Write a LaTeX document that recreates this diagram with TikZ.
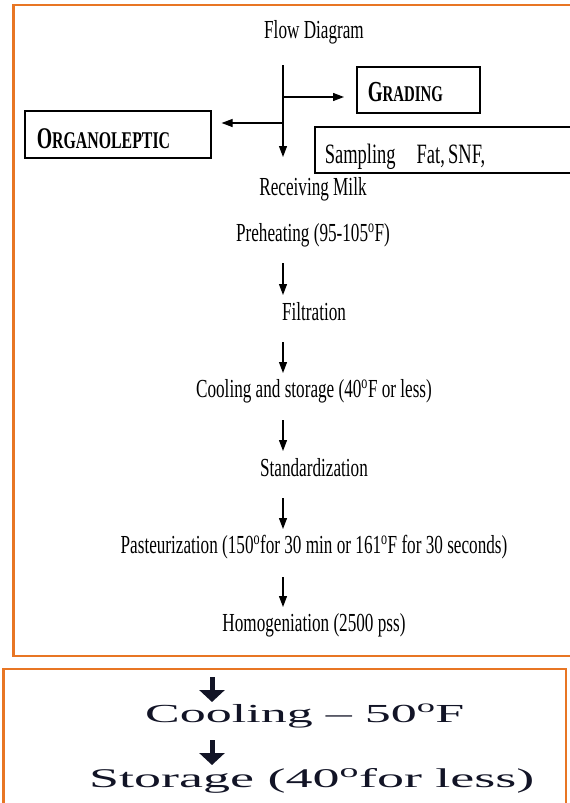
\documentclass[tikz,border=0pt]{standalone}
\usepackage{fontspec}
\setmainfont{Liberation Serif}
\newfontfamily\narrowf{Liberation Serif}[FakeStretch=0.66]
\newfontfamily\widef{Liberation Serif}[FakeStretch=2.0]
\usetikzlibrary{arrows.meta}
\definecolor{orangeb}{RGB}{232,118,36}
\definecolor{inkb}{RGB}{18,20,38}
\begin{document}
\begin{tikzpicture}[x=1pt,y=-1pt,
 txt/.style={font=\narrowf\fontsize{26}{30}\selectfont, inner sep=0pt},
 boxn/.style={draw=black, line width=1.6pt, anchor=north west, inner sep=0pt, align=left},
 arr/.style={line width=1.2pt, -{Triangle[length=11pt,width=8pt]}},
 bigarr/.style={line width=5pt, -{Triangle[length=12pt,width=25pt]}},
 bigtxt/.style={text=inkb, inner sep=0pt, anchor=base west},
 frame/.style={draw=orangeb, line width=2.5pt}]
\useasboundingbox (0,0) rectangle (570,803);
\clip (0,0) rectangle (570,803);
% frames
\draw[frame] (640,656) -- (13.5,656) -- (13.5,5) -- (640,5);
\draw[frame] (3.5,850) -- (3.5,669) -- (566,669) -- (566,850);
% title
\node[txt] (title) at (314,32) {Flow Diagram};
% boxes
\node[boxn, text width=101pt, inner xsep=11pt, text height=35pt, text depth=11pt] (grading) at (356,66)
 {\bfseries\narrowf\fontsize{29}{32}\selectfont G\fontsize{22.5}{32}\selectfont RADING};
\node[boxn, text width=162pt, inner xsep=12pt, text height=37.5pt, text depth=9.5pt] (organo) at (24,110)
 {\bfseries\narrowf\fontsize{30}{34}\selectfont O\fontsize{24}{34}\selectfont RGANOLEPTIC};
\node[boxn, text width=266pt, inner xsep=10pt, text height=37pt, text depth=9pt] (sampling) at (314,126)
 {\narrowf\fontsize{28}{32}\selectfont Sampling\hspace{21pt}Fat, SNF,};
% branching
\coordinate (v0) at (283,65);
\coordinate (v1) at (283,157);
\coordinate (jr) at (283,97);
\coordinate (jl) at (283,123);
\draw[arr] (v0) -- (v1);
\draw[arr, shorten >=12pt] (jr) -- (jr -| grading.west);
\draw[arr, shorten >=10pt] (jl) -- (jl -| organo.east);
% steps
\node[txt] (recv) at (313,189) {Receiving Milk};
\node[txt] (pre) at (313,235) {Preheating (95-105\textsuperscript{o}F)};
\node[txt] (filt) at (314,312) {Filtration};
\node[txt] (cool) at (314,391) {Cooling and storage (40\textsuperscript{o}F or less)};
\node[txt] (std) at (314,468) {Standardization};
\node[txt] (past) at (314,547) {Pasteurization (150\textsuperscript{o}for 30 min or 161\textsuperscript{o}F for 30 seconds)};
\node[txt] (homo) at (314,625) {Homogeniation (2500 pss)};
\coordinate (a1s) at (283,263); \coordinate (a1e) at (283,295);
\coordinate (a2s) at (283,342); \coordinate (a2e) at (283,373);
\coordinate (a3s) at (283,420); \coordinate (a3e) at (283,451);
\coordinate (a4s) at (283,498); \coordinate (a4e) at (283,529);
\coordinate (a5s) at (283,577); \coordinate (a5e) at (283,607);
\draw[arr] (a1s) -- (a1e);
\draw[arr] (a2s) -- (a2e);
\draw[arr] (a3s) -- (a3e);
\draw[arr] (a4s) -- (a4e);
\draw[arr] (a5s) -- (a5e);
% bottom panel
\node[bigtxt, font=\widef\fontsize{26}{30}\selectfont] (cool50) at (145,722) {Cooling – 50\textsuperscript{o}F};
\node[bigtxt, font=\widef\fontsize{27}{31}\selectfont] (stor) at (89,787) {Storage (40\textsuperscript{o}for less)};
\coordinate (b1s) at (212,677); \coordinate (b1e) at (212,702);
\coordinate (b2s) at (212,740); \coordinate (b2e) at (212,765);
\draw[bigarr, draw=inkb, fill=inkb] (b1s) -- (b1e);
\draw[bigarr, draw=inkb, fill=inkb] (b2s) -- (b2e);
\end{tikzpicture}
\end{document}
